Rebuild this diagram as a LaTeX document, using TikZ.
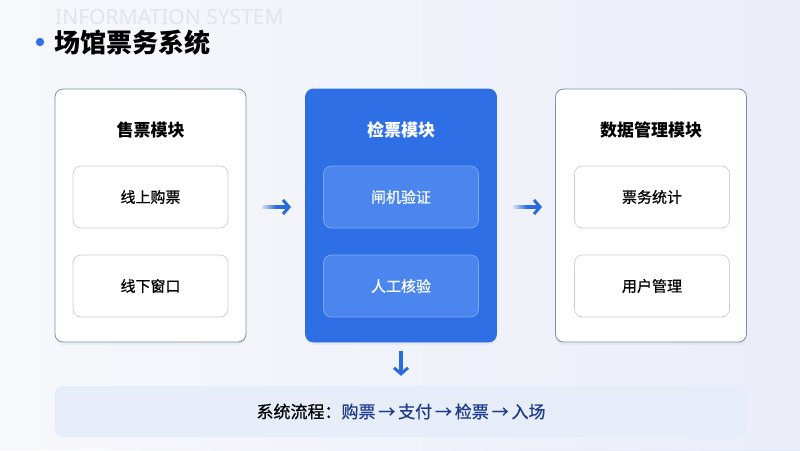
\documentclass[tikz,border=0pt]{standalone}
\usepackage{fontspec}
\newfontfamily\cjk{Noto Sans CJK SC}
\newfontface\cjkmed{Noto Sans CJK SC}[FakeBold=0.6]
\newfontfamily\latinf{Noto Sans}
\usetikzlibrary{arrows.meta,shadows}
\definecolor{bg}{HTML}{F1F4F9}
\definecolor{mainblue}{HTML}{2F6FE6}
\definecolor{panelborder}{HTML}{7D90AC}
\definecolor{subborder}{HTML}{C9CED6}
\definecolor{midsub}{HTML}{4A86EE}
\definecolor{midsubborder}{HTML}{7EA8F4}
\definecolor{barfill}{HTML}{E6EDF8}
\definecolor{flowblue}{HTML}{1E3A8A}
\definecolor{ghost}{HTML}{E1E5EB}
\definecolor{arrowblue}{HTML}{2A6BDD}
\tikzset{
  panel/.style={draw=panelborder, line width=0.8pt, fill=white, rounded corners=8pt,
    minimum width=191pt, minimum height=253pt, inner sep=0pt,
    drop shadow={opacity=0.08, shadow xshift=0pt, shadow yshift=-3pt}},
  midpanel/.style={panel, draw=mainblue, fill=mainblue},
  subbox/.style={draw=subborder, line width=0.7pt, fill=white, rounded corners=8pt,
    minimum width=155pt, minimum height=62pt, inner sep=0pt, font=\cjkmed\fontsize{15pt}{18pt}\selectfont},
  midsubbox/.style={subbox, draw=midsubborder, fill=midsub, text=white},
  heading/.style={font=\cjk\bfseries\fontsize{17pt}{20pt}\selectfont, inner sep=0pt},
  flowarrow/.style={arrowblue, line width=3.4pt, -{Straight Barb[length=6pt,width=14pt,line width=3pt]}},
}
\begin{document}
\begin{tikzpicture}[x=1pt,y=-1pt]
\useasboundingbox (0,0) rectangle (800,450);
\shade[left color=white, right color=bg!80!blue!30!bg] (0,0) rectangle (800,450);
\fill[bg, opacity=0.6] (0,0) rectangle (800,450);
% ghost title
\node[anchor=west, inner sep=0pt, text=ghost, font=\latinf\bfseries\fontsize{21pt}{24pt}\selectfont] (ghosttitle) at (55,17) {INFORMATION SYSTEM};
% title
\fill[mainblue] (40,42) circle (4.2);
\node[anchor=west, inner sep=0pt, font=\cjk\bfseries\fontsize{26pt}{30pt}\selectfont] (title) at (54,43) {场馆票务系统};
% panels
\node[panel] (left) at (150.5,215.5) {};
\node[midpanel] (mid) at (401,215.5) {};
\node[panel] (right) at (651,215.5) {};
% headings
\node[heading] (lh) at (150.5,130) {售票模块};
\node[heading, text=white] (mh) at (401,130) {检票模块};
\node[heading] (rh) at (651,130) {数据管理模块};
% sub boxes
\node[subbox] (l1) at (150.5,197) {线上购票};
\node[subbox] (l2) at (150.5,286) {线下窗口};
\node[midsubbox] (m1) at (401,197) {闸机验证};
\node[midsubbox] (m2) at (401,286) {人工核验};
\node[subbox] (r1) at (652,197) {票务统计};
\node[subbox] (r2) at (652,286) {用户管理};
% bottom bar
\node[fill=barfill, rounded corners=8pt, minimum width=692pt, minimum height=51pt, inner sep=0pt,
  font=\cjkmed\fontsize{17pt}{20pt}\selectfont] (bar) at (401,411.5)
  {系统流程：\textcolor{flowblue}{购票\,→\,支付\,→\,检票\,→\,入场}};
% arrows
\coordinate (a1s) at (262,207);
\coordinate (a1e) at (291,207);
\coordinate (a2s) at (513,207);
\coordinate (a2e) at (542,207);
\draw[flowarrow] (a1s) -- (a1e);
\draw[flowarrow] (a2s) -- (a2e);
\shade[left color=arrowblue!20!white, right color=arrowblue] (262,205.3) rectangle (276,208.7);
\shade[left color=arrowblue!20!white, right color=arrowblue] (513,205.3) rectangle (527,208.7);
\draw[flowarrow, shorten <=9pt, shorten >=10pt] (mid.south) -- (bar.north -| mid.south);
\end{tikzpicture}
\end{document}
